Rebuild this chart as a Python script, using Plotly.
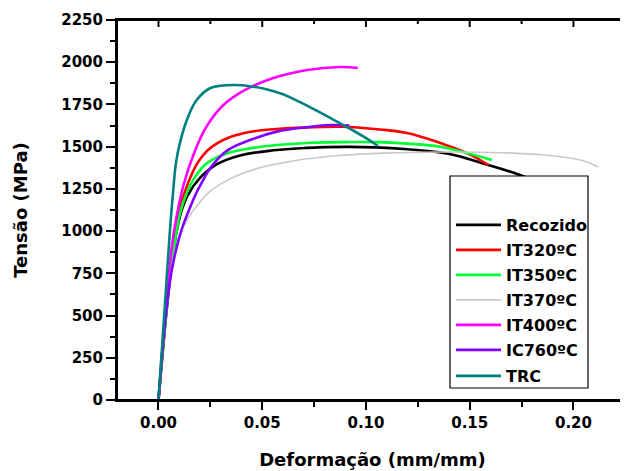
import plotly.graph_objects as go

# ---------------- data ----------------
names = ["Recozido", "IT320ºC", "IT350ºC", "IT370ºC", "IT400ºC", "IC760ºC", "TRC"]
colors = ["#000000", "#FF0000", "#00FF33", "#C8C8C8", "#FF00FF", "#8000FF", "#008080"]
widths = [2.6, 2.6, 2.6, 1.6, 2.6, 2.6, 2.6]

rec_x = [0, 0.004, 0.0072, 0.0104, 0.014, 0.020, 0.028, 0.0393, 0.057, 0.0716, 0.090, 0.105, 0.120, 0.1357, 0.1434, 0.1549, 0.1742, 0.190]
rec_y = [0, 540, 880, 1090, 1210, 1315, 1395, 1448, 1480, 1493, 1499, 1496, 1485, 1466, 1448, 1406, 1332, 1250]

it320_x = [0, 0.004, 0.0065, 0.0095, 0.0135, 0.020, 0.028, 0.0409, 0.057, 0.070, 0.0875, 0.1067, 0.1198, 0.1357, 0.149, 0.159]
it320_y = [0, 560, 880, 1100, 1260, 1425, 1518, 1579, 1605, 1613, 1618, 1602, 1581, 1522, 1460, 1391]

it350_x = [0, 0.004, 0.0072, 0.0104, 0.0136, 0.0168, 0.0232, 0.0329, 0.0441, 0.057, 0.0716, 0.090, 0.105, 0.120, 0.1357, 0.1468, 0.1607]
it350_y = [0, 540, 880, 1105, 1225, 1305, 1401, 1460, 1490, 1510, 1522, 1527, 1527, 1518, 1500, 1468, 1421]

it370_x = [0, 0.004, 0.0075, 0.011, 0.0145, 0.0184, 0.0248, 0.036, 0.0473, 0.0552, 0.070, 0.0875, 0.110, 0.1357, 0.155, 0.1708, 0.185, 0.1949, 0.205, 0.2118]
it370_y = [0, 560, 860, 1000, 1080, 1148, 1235, 1318, 1370, 1393, 1425, 1448, 1462, 1468, 1467, 1462, 1452, 1439, 1415, 1380]

it400_x = [0, 0.0035, 0.0064, 0.0088, 0.012, 0.0168, 0.0232, 0.0312, 0.0409, 0.055, 0.0716, 0.0875, 0.0961]
it400_y = [0, 540, 908, 1090, 1270, 1450, 1620, 1745, 1830, 1905, 1954, 1972, 1966]

ic760_x = [0, 0.0035, 0.006, 0.008, 0.0112, 0.0152, 0.0184, 0.0216, 0.0248, 0.0329, 0.0441, 0.057, 0.0716, 0.083, 0.092]
ic760_y = [0, 500, 740, 865, 1010, 1140, 1230, 1303, 1370, 1475, 1539, 1589, 1615, 1628, 1625]

trc_x = [0, 0.003, 0.0058, 0.0071, 0.0085, 0.0104, 0.0136, 0.0184, 0.0248, 0.031, 0.037, 0.044, 0.052, 0.060, 0.068, 0.076, 0.084, 0.092, 0.0995, 0.1058]
trc_y = [0, 550, 1050, 1240, 1410, 1525, 1655, 1776, 1846, 1862, 1865, 1858, 1840, 1810, 1765, 1715, 1662, 1608, 1555, 1504]

xs = [rec_x, it320_x, it350_x, it370_x, it400_x, ic760_x, trc_x]
ys = [rec_y, it320_y, it350_y, it370_y, it400_y, ic760_y, trc_y]

x_ticks = [0.0, 0.05, 0.10, 0.15, 0.20]
x_minor = [0.025, 0.075, 0.125, 0.175, 0.225]
y_ticks = [0, 250, 500, 750, 1000, 1250, 1500, 1750, 2000, 2250]

# ---------------- figure ----------------
OFF = 8  # page body margin
W, H = 620, 463
ML, MR, MT, MB = 117 - OFF, 0, 20 - OFF, 71
PW, PH = W - ML - MR, H - MT - MB
XR = [-0.0200, 0.2263]
YR = [0, 2250]

def px_x(p):  # page pixel -> paper x
    return (p - OFF - ML) / PW

def px_y(p):  # page pixel -> paper y
    return (H - MB - (p - OFF)) / PH

fig = go.Figure()
lfont = dict(family="DejaVu Sans", size=16, color="black", weight="bold")
leg_centers = [225, 250, 275, 300, 325, 350, 376]

for i in range(len(names)):
    lname = "legend" if i == 0 else f"legend{i+1}"
    fig.add_trace(go.Scatter(
        x=xs[i], y=ys[i], mode="lines", name=names[i], showlegend=True,
        line=dict(color=colors[i], width=widths[i], shape="spline", smoothing=1.2),
        legend=lname, hoverinfo="skip"))
    fig.update_layout(**{lname: dict(
        x=px_x(451), y=px_y(leg_centers[i]), xanchor="left", yanchor="middle",
        bgcolor="rgba(0,0,0,0)", borderwidth=0, itemwidth=45, font=lfont)})

tfont = dict(family="DejaVu Sans", size=15, color="black", weight="bold")
title_font = dict(family="DejaVu Sans", size=18, color="black", weight="bold")

# frame: outline of plot area, inward ticks on top and right edges
shapes = [dict(type="rect", xref="paper", yref="paper", x0=0, x1=1, y0=0, y1=1,
               fillcolor="rgba(0,0,0,0)", line=dict(color="black", width=2), layer="above")]
for t in x_ticks:
    shapes.append(dict(type="line", xref="x", yref="paper", x0=t, x1=t, y0=-7, y1=0,
                       ysizemode="pixel", yanchor=1, line=dict(color="black", width=2), layer="above"))
for t in x_minor:
    shapes.append(dict(type="line", xref="x", yref="paper", x0=t, x1=t, y0=-4, y1=0,
                       ysizemode="pixel", yanchor=1, line=dict(color="black", width=2), layer="above"))
for v in y_ticks[1:-1]:
    shapes.append(dict(type="line", xref="paper", yref="y", x0=-7, x1=-1, y0=v, y1=v,
                       xsizemode="pixel", xanchor=1, line=dict(color="black", width=2), layer="above"))
shapes.append(dict(type="rect", xref="paper", yref="paper",
                   x0=px_x(450), x1=px_x(588), y0=px_y(388), y1=px_y(176),
                   fillcolor="white", line=dict(color="black", width=1.2), layer="above"))

fig.update_layout(
    width=W, height=H, showlegend=True,
    margin=dict(l=ML, r=MR, t=MT, b=MB),
    paper_bgcolor="white", plot_bgcolor="white",
    xaxis=dict(range=XR, tickvals=x_ticks, ticktext=[f"{v:.2f}" for v in x_ticks],
               ticks="outside", ticklen=8, tickwidth=2, tickcolor="black",
               minor=dict(dtick=0.025, tick0=0, ticks="outside", ticklen=5, tickwidth=2, tickcolor="black"),
               showline=True, mirror=True, linewidth=2, linecolor="black", showgrid=False, zeroline=False,
               tickfont=tfont, automargin=False,
               title=dict(text="Deformação (mm/mm)", font=title_font, standoff=22)),
    yaxis=dict(range=YR, tickvals=y_ticks, ticks="outside", ticklen=9, tickwidth=2, tickcolor="black",
               minor=dict(dtick=125, tick0=0, ticks="outside", ticklen=5, tickwidth=2, tickcolor="black"),
               showline=True, linewidth=2, linecolor="black", showgrid=False, zeroline=False,
               tickfont=tfont, automargin=False,
               title=dict(text="Tensão (MPa)", font=title_font, standoff=29)),
    shapes=shapes,
)

fig.write_html("out.html")
